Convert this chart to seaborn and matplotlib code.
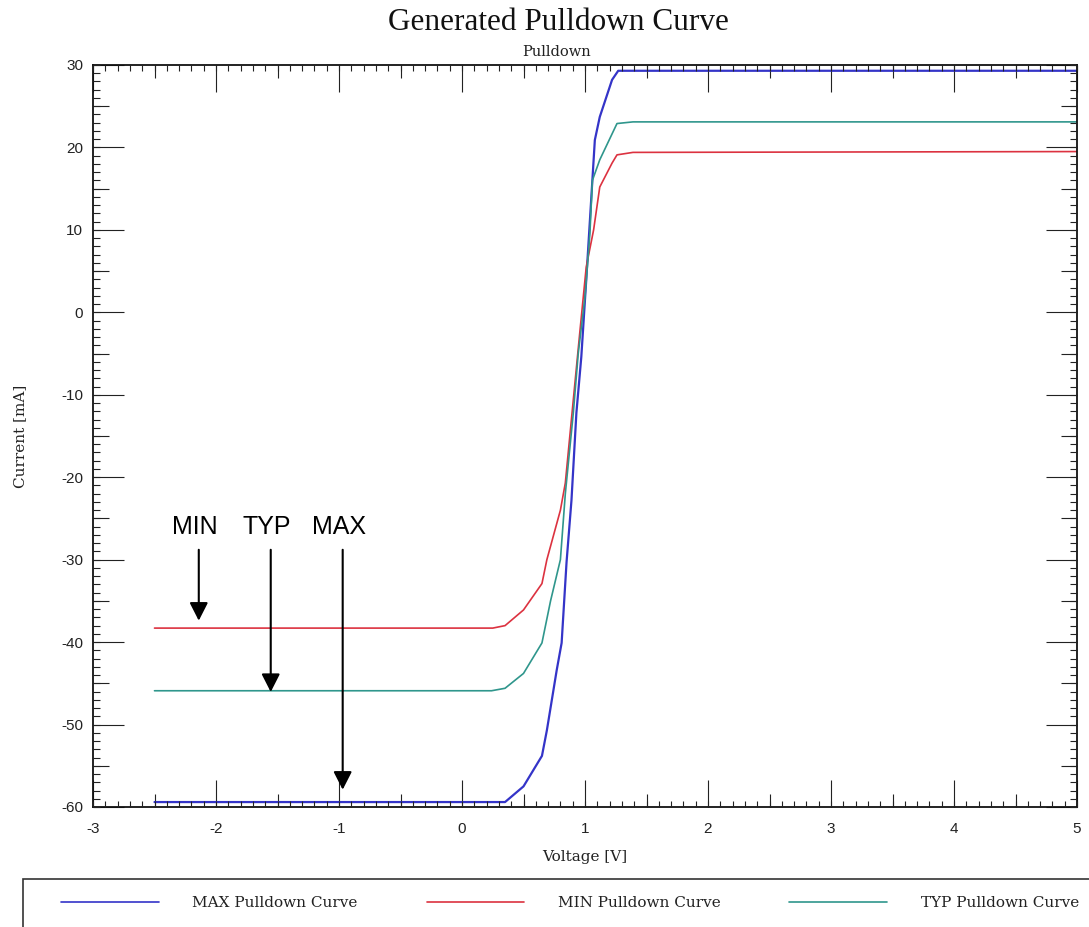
import numpy as np
import pandas as pd
import matplotlib
matplotlib.use("Agg")
import matplotlib.pyplot as plt
from matplotlib.ticker import MultipleLocator, NullFormatter, NullLocator
from matplotlib.patches import Rectangle
import seaborn as sns

# ---------------- data ----------------
max_v = [-2.5, 0.35, 0.50, 0.65, 0.69, 0.77, 0.81, 0.85, 0.89, 0.93, 0.97, 1.01, 1.05, 1.08, 1.12, 1.22, 1.27, 5.0]
max_i = [-59.4, -59.4, -57.5, -53.8, -50.7, -43.4, -40.1, -30.3, -22.8, -12.2, -5.4, 3.9, 13.6, 20.9, 23.7, 28.2, 29.3, 29.3]

min_v = [-2.5, 0.25, 0.35, 0.50, 0.65, 0.69, 0.80, 0.84, 0.905, 0.96, 1.01, 1.07, 1.12, 1.22, 1.26, 1.39, 5.0]
min_i = [-38.3, -38.3, -38.0, -36.1, -32.9, -30.0, -24.0, -20.7, -10.6, -2.1, 5.5, 10.0, 15.2, 18.1, 19.1, 19.4, 19.5]

typ_v = [-2.5, 0.24, 0.35, 0.50, 0.65, 0.72, 0.80, 0.84, 0.905, 0.945, 1.00, 1.04, 1.06, 1.12, 1.26, 1.39, 5.0]
typ_i = [-45.9, -45.9, -45.6, -43.8, -40.1, -35.0, -30.0, -22.0, -12.2, -5.0, 1.9, 9.6, 16.0, 18.5, 22.9, 23.1, 23.1]

series_names = ["MAX Pulldown Curve", "MIN Pulldown Curve", "TYP Pulldown Curve"]
series_colors = ["#3434c8", "#dc3240", "#2f968c"]

ann_labels = ["MIN", "TYP", "MAX"]
ann_x = [-2.14, -1.555, -0.97]
ann_text_y = -26.0
ann_start_y = -28.8
ann_tip_y = [-37.4, -46.05, -57.9]

x_ticks = [-3, -2, -1, 0, 1, 2, 3, 4, 5]
y_ticks = [-60, -50, -40, -30, -20, -10, 0, 10, 20, 30]

# ---------------- frame ----------------
df = pd.concat([
    pd.DataFrame({"Voltage": max_v, "Current": max_i, "Series": series_names[0]}),
    pd.DataFrame({"Voltage": min_v, "Current": min_i, "Series": series_names[1]}),
    pd.DataFrame({"Voltage": typ_v, "Current": typ_i, "Series": series_names[2]}),
], ignore_index=True)

sns.set_style("white")
plt.rcParams["axes.unicode_minus"] = False
plt.rcParams["font.family"] = ["DejaVu Serif"]

W, H = 1089, 927
fig = plt.figure(figsize=(W / 100, H / 100), dpi=100)
L, R, T, B = 93, 1077, 65, 807
rect = [L / W, 1 - B / H, (R - L) / W, (B - T) / H]
ax = fig.add_axes(rect)

sns.lineplot(data=df, x="Voltage", y="Current", hue="Series", hue_order=series_names,
             palette=series_colors, estimator=None, sort=False, legend=False, ax=ax, linewidth=1.2)
for ln, lw in zip(ax.get_lines(), [1.6, 1.2, 1.2]):
    ln.set_linewidth(lw)

ax.set_xlim(-3, 5)
ax.set_ylim(-60, 30)
ax.set_xticks(x_ticks)
ax.set_yticks(y_ticks)
ax.xaxis.set_minor_locator(MultipleLocator(0.5))
ax.yaxis.set_minor_locator(MultipleLocator(5))
for lab in ax.get_xticklabels() + ax.get_yticklabels():
    lab.set_family("Liberation Sans")
    lab.set_fontsize(11)
    lab.set_color("#222222")
ax.tick_params(axis="x", which="major", direction="in", length=19.5, width=0.8, top=True, bottom=True, pad=11, color="#222222")
ax.tick_params(axis="x", which="minor", direction="in", length=9.5, width=0.8, top=True, bottom=True, color="#222222")
ax.tick_params(axis="y", which="major", direction="in", length=22.3, width=0.8, left=True, right=True, pad=7, color="#222222")
ax.tick_params(axis="y", which="minor", direction="in", length=11.5, width=0.8, left=True, right=True, color="#222222")
for s in ax.spines.values():
    s.set_visible(True)
    s.set_color("#111111")
    s.set_linewidth(1.3)

# fine ticks overlay
ax2 = fig.add_axes(rect, frameon=False)
ax2.set_xlim(-3, 5)
ax2.set_ylim(-60, 30)
ax2.xaxis.set_major_locator(NullLocator())
ax2.yaxis.set_major_locator(NullLocator())
ax2.xaxis.set_minor_locator(MultipleLocator(0.1))
ax2.yaxis.set_minor_locator(MultipleLocator(1))
ax2.xaxis.set_minor_formatter(NullFormatter())
ax2.yaxis.set_minor_formatter(NullFormatter())
ax2.tick_params(axis="x", which="minor", direction="in", length=4.5, width=0.8, top=True, bottom=True, color="#222222")
ax2.tick_params(axis="y", which="minor", direction="in", length=5, width=0.8, left=True, right=True, color="#222222")
ax2.patch.set_visible(False)

# labels
ax.set_xlabel("Voltage [V]", fontsize=11, family="DejaVu Serif", color="#222222")
ax.set_ylabel("Current [mA]", fontsize=11, family="DejaVu Serif", color="#222222")
ax.xaxis.set_label_coords(0.5, (B - 857) / (B - T))
ax.xaxis.label.set_va("center")
ax.yaxis.set_label_coords((20 - L) / (R - L), 0.5)
ax.yaxis.label.set_va("center")

fig.text(558 / W, 1 - 22 / H, "Generated Pulldown Curve", ha="center", va="center",
         fontsize=22.5, family="Liberation Serif", color="#111111")
fig.text(557 / W, 1 - 52 / H, "Pulldown", ha="center", va="center",
         fontsize=10.5, family="DejaVu Serif", color="#222222")

# annotations
for lbl, x, tip in zip(ann_labels, ann_x, ann_tip_y):
    ax.text(x - 0.03, ann_text_y, lbl, ha="center", va="center", fontsize=18,
            family="Liberation Sans", color="black")
    ax.annotate("", xy=(x, tip), xytext=(x, ann_start_y),
                arrowprops=dict(arrowstyle="-|>,head_length=0.55,head_width=0.28",
                                color="black", lw=1.5, shrinkA=0, shrinkB=0,
                                mutation_scale=20))

# legend
handles = ax.get_lines()[:3]
leg = fig.legend(handles, series_names, loc="center left",
                 bbox_to_anchor=(61 / W, 1 - 903 / H), ncol=3, frameon=False,
                 borderpad=0, borderaxespad=0, handlelength=6.4, handletextpad=2.2,
                 columnspacing=4.5, prop={"family": "DejaVu Serif", "size": 11})
for t in leg.get_texts():
    t.set_color("#222222")
for lh in leg.legend_handles:
    lh.set_linewidth(1.2)
fig.add_artist(Rectangle((23 / W, -0.05), 1.2, (H - 879) / H + 0.05,
                         transform=fig.transFigure, fill=False,
                         edgecolor="#333333", linewidth=1.2))

fig.savefig("out.png", dpi=100)
